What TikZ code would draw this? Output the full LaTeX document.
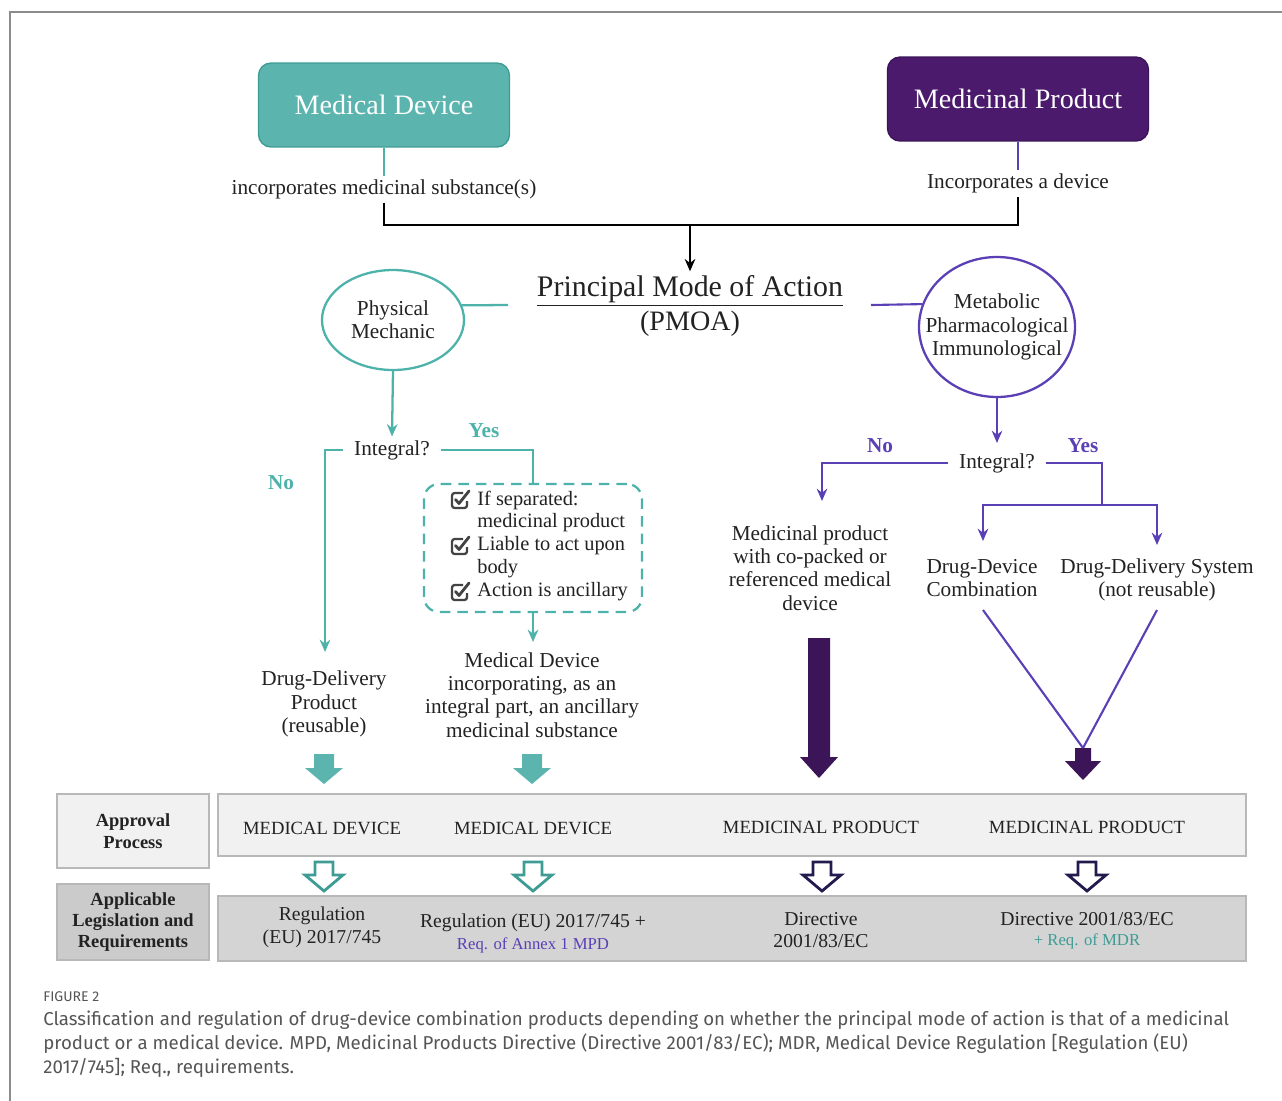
\documentclass[tikz,border=0pt]{standalone}
\usepackage{fontspec}
\setmainfont{Liberation Serif}
\newfontfamily\capfont{Fira Sans}
\usetikzlibrary{shapes.geometric,arrows.meta}
\definecolor{tealc}{HTML}{4DB3AA}
\definecolor{tealbox}{HTML}{5CB4AE}
\definecolor{tealdark}{HTML}{3E9C94}
\definecolor{purbox}{HTML}{4B1A6D}
\definecolor{purline}{HTML}{5A3FB5}
\definecolor{purdark}{HTML}{3C1458}
\definecolor{navyc}{HTML}{221C4E}
\definecolor{rowA}{HTML}{F1F1F1}
\definecolor{rowB}{HTML}{D4D4D4}
\definecolor{rowBL}{HTML}{CBCBCB}
\definecolor{rowline}{HTML}{B8B8B8}
\definecolor{textc}{HTML}{222222}
\definecolor{capc}{HTML}{555555}
\newcommand{\bodyfont}{\fontsize{12.1}{13.2}\selectfont}
\tikzset{
  body/.style={font=\bodyfont, text=textc, align=center, inner sep=2pt},
  chkline/.style={font=\fontsize{11.6}{13}\selectfont, text=textc, anchor=west, inner sep=0pt},
  tealline/.style={draw=tealc, line width=1.3pt},
  purpleline/.style={draw=purline, line width=1.2pt},
  tip/.style={-{Stealth[length=7pt,width=6pt]}},
  topbox/.style={rounded corners=0.25cm, minimum height=1.68cm, font=\fontsize{16}{18}\selectfont, text=white, line width=0.8pt},
  yesno/.style={font=\bodyfont\bfseries, inner sep=1pt},
  rowbox/.style={draw=rowline, line width=0.8pt, minimum width=20.56cm},
  labbox/.style={draw=rowline, line width=0.8pt, minimum width=3.04cm, font=\fontsize{10.5}{12.2}\selectfont\bfseries, align=center, text=textc},
  rowtext/.style={font=\fontsize{11.2}{13}\selectfont, text=textc, align=center, inner sep=1pt},
  captext/.style={font=\fontsize{10.6}{13}\selectfont, text=textc, inner sep=1pt},
  smalltext/.style={font=\fontsize{9.5}{11}\selectfont, inner sep=1pt},
  checkicon/.pic={
    \draw[textc!85, line width=1.3pt, rounded corners=1.5pt] (7,1) -- (7,8) -- (-8,8) -- (-8,-7) -- (3,-7);
    \draw[textc!85, line width=1.6pt, line cap=round, line join=round] (-4.5,-0.5) -- (-1,3.5) -- (9,-9);
  },
  solidarrow/.pic={\path[pic actions] (-10,0) -- (10,0) -- (10,14) -- (19,14) -- (0,30) -- (-19,14) -- (-10,14) -- cycle;},
  hollowarrow/.pic={\path[pic actions] (-9,0) -- (9,0) -- (9,13) -- (19,13) -- (0,29) -- (-19,13) -- (-9,13) -- cycle;},
  bigarrow/.pic={\path[pic actions] (-11,0) -- (11,0) -- (11,119) -- (19,119) -- (0,140) -- (-19,119) -- (-11,119) -- cycle;},
  smallarrow/.pic={\path[pic actions] (-8,0) -- (8,0) -- (8,13) -- (18,13) -- (0,32) -- (-18,13) -- (-8,13) -- cycle;},
}
\begin{document}
\begin{tikzpicture}[x=0.02cm,y=-0.02cm]
\useasboundingbox (0,0) rectangle (1282,1100);
\draw[draw=black!45, line width=0.6pt] (10,1120) -- (10,12) -- (1300,12);

% top boxes
\node[topbox, fill=tealbox, draw=tealdark, minimum width=5.02cm] (md) at (384,105) {Medical Device};
\node[topbox, fill=purbox, draw=purdark, minimum width=5.22cm] (mp) at (1018,99) {Medicinal Product};
\node[body] (mdtxt) at (384,189) {incorporates medicinal substance(s)};
\node[body] (mptxt) at (1018,183) {Incorporates a device};
\draw[tealline] (md.south) -- (mdtxt.north);
\draw[purpleline] (mp.south) -- (mptxt.north);

% PMOA
\node[align=center, text=textc, inner sep=2pt] (pmoa) at (690,306)
  {{\fontsize{17}{20}\selectfont\underline{Principal Mode of Action}}\\[2pt]{\fontsize{16}{19}\selectfont (PMOA)}};
\coordinate (brk) at (690,225);
\draw[black, line width=1.3pt] (mdtxt.south) |- (brk) -| (mptxt.south);
\draw[black, line width=1.3pt, tip] (brk) -- (pmoa.north);

% ellipses
\node[ellipse, draw=tealc, line width=1.3pt, minimum width=2.84cm, minimum height=2cm, inner sep=0pt] (phys) at (393,320) {};
\node[body] (physt) at (phys.center) {Physical\\Mechanic};
\node[ellipse, draw=purline, line width=1.3pt, minimum width=3.12cm, minimum height=2.8cm, inner sep=0pt] (meta) at (997,327) {};
\node[body] (metat) at (meta.center) {Metabolic\\Pharmacological\\Immunological};
\coordinate (pmoaL) at (508,305);
\coordinate (pmoaR) at (871,305);
\draw[tealline] (phys.12) -- (pmoaL);
\draw[purpleline] (pmoaR) -- (meta.163);

% left branch
\node[body] (intL) at (392,450) {Integral?};
\draw[tealline, tip] (phys.south) -- (intL.north);
\node[yesno, text=tealc] (noL) at (281,483) {No};
\node[yesno, text=tealc] (yesL) at (484,431) {Yes};
\node[body] (ddp) at (324,704) {Drug-Delivery\\Product\\(reusable)};
\coordinate (ddpTip) at (325,652);
\draw[tealline, tip] ([xshift=-4pt]intL.west) -| (ddpTip);
\node[draw=tealc, line width=1.3pt, dash pattern=on 6pt off 4pt, rounded corners=0.3cm,
      minimum width=4.36cm, minimum height=2.56cm, inner sep=0pt] (chk) at (533,548) {};
\node[chkline] (c1) at (477,500) {If separated:};
\node[chkline] (c2) at (477,523) {medicinal product};
\node[chkline] (c3) at (477,546) {Liable to act upon};
\node[chkline] (c4) at (477,569) {body};
\node[chkline] (c5) at (477,592) {Action is ancillary};
\pic at ([xshift=-0.34cm]c1.west) {checkicon};
\pic at ([xshift=-0.34cm]c3.west) {checkicon};
\pic at ([xshift=-0.34cm]c5.west) {checkicon};
\draw[tealline] ([xshift=4pt]intL.east) -| (chk.north);
\node[body] (mdi) at (532,695) {Medical Device\\incorporating, as an\\integral part, an ancillary\\medicinal substance};
\coordinate (mdiTip) at (533,642);
\draw[tealline, tip] (chk.south) -- (mdiTip);
\pic[fill=tealbox] at (324,754) {solidarrow};
\pic[fill=tealbox] at (532,754) {solidarrow};

% right branch
\node[body] (intR) at (997,463) {Integral?};
\coordinate (intTop) at (997,443);
\draw[purpleline, line width=0.9pt, tip] (meta.south) -- (intTop);
\node[yesno, text=purline] (noR) at (880,446) {No};
\node[yesno, text=purline] (yesR) at (1083,446) {Yes};
\coordinate (noTip) at (822,501);
\draw[purpleline, tip] ([xshift=-4pt]intR.west) -| (noTip);
\coordinate (split) at (1102,505);
\coordinate (ddcTip) at (983,541);
\coordinate (ddsTip) at (1157,545);
\draw[purpleline] ([xshift=4pt]intR.east) -| (split);
\draw[purpleline, tip] (split) -| (ddcTip);
\draw[purpleline, tip] (split) -| (ddsTip);
\node[body] (mpc) at (810,568) {Medicinal product\\with co-packed or\\referenced medical\\device};
\node[body] (ddc) at (982,578) {Drug-Device\\Combination};
\node[body] (dds) at (1157,580) {Drug-Delivery System\\(not reusable)};
\coordinate (conv) at (1083,748);
\coordinate (ddcB) at (983,610);
\coordinate (ddsB) at (1157,610);
\draw[purpleline] (ddcB) -- (conv) -- (ddsB);
\pic[fill=purdark] at (819,638) {bigarrow};
\pic[fill=purdark] at (1083,748) {smallarrow};

% approval row
\node[labbox, fill=rowA, minimum height=1.48cm] (apL) at (133,831) {Approval\\Process};
\node[rowbox, fill=rowA, minimum height=1.24cm] (apM) at (732,825) {};
\node[captext] (ap1) at (322,828) {MEDICAL DEVICE};
\node[captext] (ap2) at (533,828) {MEDICAL DEVICE};
\node[captext] (ap3) at (821,827) {MEDICINAL\ PRODUCT};
\node[captext] (ap4) at (1087,827) {MEDICINAL\ PRODUCT};

\pic[draw=tealdark, fill=white, line width=1.6pt, line join=miter] at (324,862) {hollowarrow};
\pic[draw=tealdark, fill=white, line width=1.6pt, line join=miter] at (533,862) {hollowarrow};
\pic[draw=navyc, fill=white, line width=1.6pt, line join=miter] at (822,862) {hollowarrow};
\pic[draw=navyc, fill=white, line width=1.6pt, line join=miter] at (1087,862) {hollowarrow};

% legislation row
\node[labbox, fill=rowBL, minimum height=1.52cm] (lgL) at (133,922) {Applicable\\Legislation and\\Requirements};
\node[rowbox, fill=rowB, minimum height=1.3cm] (lgM) at (732,928.5) {};
\node[rowtext] (lg1) at (322,927) {Regulation\\(EU) 2017/745};
\node[rowtext] (lg2) at (533,923) {Regulation (EU) 2017/745 +};
\node[smalltext, text=purline] (lg2b) at (533,945) {Req. of Annex 1 MPD};
\node[rowtext] (lg3) at (821,930) {Directive\\2001/83/EC};
\node[rowtext] (lg4) at (1087,919) {Directive 2001/83/EC};
\node[smalltext, text=tealdark] (lg4b) at (1087,941) {+ Req. of MDR};

% caption
\node[anchor=west, inner sep=0pt, font=\capfont\fontsize{8}{9}\selectfont, text=capc] (figlab) at (43,997) {FIGURE 2};
\node[anchor=west, inner sep=0pt, font=\capfont\fontsize{10.62}{12}\selectfont, text=capc] (cap1) at (43,1020) {Classification and regulation of drug-device combination products depending on whether the principal mode of action is that of a medicinal};
\node[anchor=west, inner sep=0pt, font=\capfont\fontsize{10.62}{12}\selectfont, text=capc] (cap2) at (43,1044) {product or a medical device. MPD, Medicinal Products Directive (Directive 2001/83/EC); MDR, Medical Device Regulation [Regulation (EU)};
\node[anchor=west, inner sep=0pt, font=\capfont\fontsize{10.62}{12}\selectfont, text=capc] (cap3) at (43,1068) {2017/745]; Req., requirements.};
\end{tikzpicture}
\end{document}
